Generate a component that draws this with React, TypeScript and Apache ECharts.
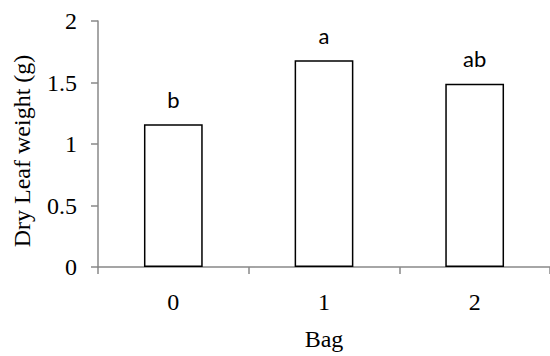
import React, { useEffect, useRef } from "react";
import * as echarts from "echarts";

const categories = ["0", "1", "2"];
const values = [1.16, 1.68, 1.49];
const letters = ["b", "a", "ab"];
const yTicks = { min: 0, max: 2, interval: 0.5 };

export default function App() {
  const ref = useRef<HTMLDivElement>(null);
  useEffect(() => {
    if (!ref.current) return;
    const chart = echarts.init(ref.current, undefined, { renderer: "svg" });
    const serif = "Times New Roman";
    chart.setOption({
      animation: false,
      backgroundColor: "#ffffff",
      grid: { left: 98, top: 21, right: 0, bottom: 85 },
      xAxis: {
        type: "category",
        data: categories,
        name: "Bag",
        nameLocation: "middle",
        nameGap: 60,
        nameTextStyle: { fontFamily: serif, fontSize: 24, color: "#000" },
        axisLine: { lineStyle: { color: "#888888", width: 1.5 } },
        axisTick: { show: true, length: 7, lineStyle: { color: "#888888", width: 1.5 } },
        axisLabel: { fontFamily: serif, fontSize: 24, color: "#000", margin: 23 },
      },
      yAxis: {
        type: "value",
        min: yTicks.min,
        max: yTicks.max,
        interval: yTicks.interval,
        name: "Dry Leaf weight (g)",
        nameLocation: "middle",
        nameGap: 64,
        nameTextStyle: { fontFamily: serif, fontSize: 24, color: "#000", padding: [0, 14, 0, 0] },
        splitLine: { show: false },
        axisLine: { show: true, lineStyle: { color: "#888888", width: 1.5 } },
        axisTick: { show: true, length: 7, lineStyle: { color: "#888888", width: 1.5 } },
        axisLabel: { fontFamily: serif, fontSize: 24, color: "#000", margin: 21 },
      },
      series: [
        {
          type: "bar",
          data: values.map((v, i) => ({ value: v, label: { formatter: letters[i] } })),
          barWidth: "39%",
          itemStyle: { color: "#ffffff", borderColor: "#000000", borderWidth: 1.5 },
          label: {
            show: true,
            position: "top",
            distance: 14,
            fontFamily: "Lato",
            fontSize: 22,
            color: "#000",
          },
        },
      ],
    });
    return () => chart.dispose();
  }, []);
  return (
    <div
      ref={ref}
      style={{ position: "fixed", left: 0, top: 0, width: 550, height: 356 }}
    />
  );
}
